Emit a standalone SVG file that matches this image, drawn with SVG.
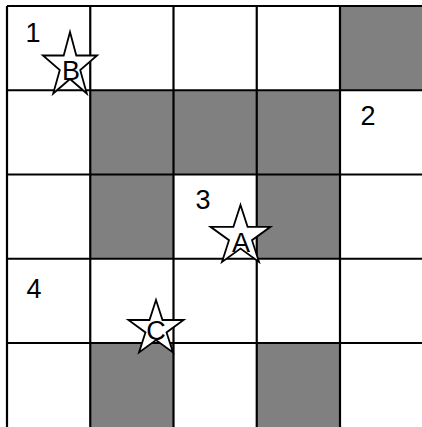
<svg xmlns="http://www.w3.org/2000/svg" width="422" height="427" viewBox="0 0 422 427">
<style>
.dark{fill:#808080;stroke:none}
.grid{stroke:#000;stroke-width:2.2;fill:none}
.star{fill:#fff;stroke:#000;stroke-width:1.8;stroke-linejoin:miter}
.num{font-family:"Liberation Sans","DejaVu Sans",sans-serif;font-size:27px;fill:#000;text-anchor:middle}
.let{font-family:"Liberation Sans","DejaVu Sans",sans-serif;font-size:27px;fill:#000;text-anchor:middle}
</style>
<rect x="0" y="0" width="422" height="427" fill="#fff"/>
<g id="shaded-cells">
<rect class="dark" x="340" y="6" width="82" height="84.25"/>
<rect class="dark" x="90.25" y="90.25" width="249.75" height="84.25"/>
<rect class="dark" x="90.25" y="174.5" width="83.25" height="84.25"/>
<rect class="dark" x="256.75" y="174.5" width="83.25" height="84.25"/>
<rect class="dark" x="90.25" y="343" width="83.25" height="84"/>
<rect class="dark" x="256.75" y="343" width="83.25" height="84"/>
</g>
<g id="grid-lines" class="grid">
<line x1="7" y1="6" x2="7" y2="427"/>
<line x1="90.25" y1="6" x2="90.25" y2="427"/>
<line x1="173.5" y1="6" x2="173.5" y2="427"/>
<line x1="256.75" y1="6" x2="256.75" y2="427"/>
<line x1="340" y1="6" x2="340" y2="427"/>
<line x1="7" y1="6" x2="422" y2="6"/>
<line x1="7" y1="90.25" x2="422" y2="90.25"/>
<line x1="7" y1="174.5" x2="422" y2="174.5"/>
<line x1="7" y1="258.75" x2="422" y2="258.75"/>
<line x1="7" y1="343" x2="422" y2="343"/>
</g>
<g id="numbers">
<text class="num" x="33" y="42">1</text>
<text class="num" x="368" y="125">2</text>
<text class="num" x="203" y="209">3</text>
<text class="num" x="34" y="298">4</text>
</g>
<g id="star-B">
<polygon class="star" points="70,32 76.3,55.5 97.1,55.5 80.2,70.0 86.8,93.5 70,79.0 53.2,93.5 59.8,70.0 42.9,55.5 63.7,55.5"/>
<text class="let" x="71" y="80">B</text>
</g>
<g id="star-A">
<polygon class="star" points="240.5,205 247.6,226.8 270.5,226.8 252.0,240.2 259.0,262 240.5,248.5 222.0,262 229.0,240.2 210.5,226.8 233.4,226.8"/>
<text class="let" x="241" y="252">A</text>
</g>
<g id="star-C">
<polygon class="star" points="156,300 162.5,320 183.6,320 166.5,332.4 173.0,352.5 156,340.1 139.0,352.5 145.5,332.4 128.4,320 149.5,320"/>
<text class="let" x="156" y="340">C</text>
</g>
</svg>
